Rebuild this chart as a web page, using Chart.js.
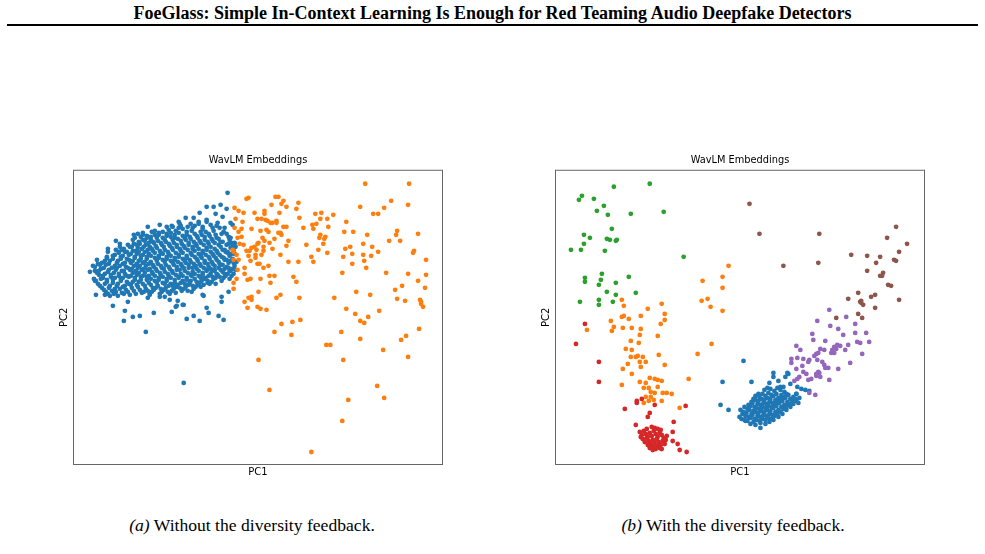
<!DOCTYPE html>
<html>
<head>
<meta charset="utf-8">
<script src="https://cdn.jsdelivr.net/npm/chart.js@4.4.0/dist/chart.umd.min.js"></script>
<style>
  body { margin: 0; width: 985px; height: 554px; background: #fff; position: relative; overflow: hidden; }
  .header { position: absolute; left: 0; top: 3px; width: 985px; text-align: center; line-height: 20px;
            font-family: "Liberation Serif", serif; font-weight: bold; font-size: 18px; color: #000; }
  .rule { position: absolute; left: 7px; top: 24px; width: 971px; height: 2px; background: #000; }
  .cap { position: absolute; top: 515px; width: 400px; text-align: center; line-height: 20px;
         font-family: "Liberation Serif", serif; font-size: 17.6px; color: #000; }
  canvas { position: absolute; }
</style>
</head>
<body>
<div class="header">FoeGlass: Simple In-Context Learning Is Enough for Red Teaming Audio Deepfake Detectors</div>
<div class="rule"></div>
<canvas id="left" width="408" height="336" style="left:46px; top:148px;"></canvas>
<canvas id="right" width="408" height="336" style="left:528px; top:148px;"></canvas>
<div class="cap" style="left:52px;"><i>(a)</i> Without the diversity feedback.</div>
<div class="cap" style="left:533px;"><i>(b)</i> With the diversity feedback.</div>
<script>
// projected embeddings, [PC1, PC2] in plot units (0..369 x 0..293)
const leftBlue = [
  [154,271],[147,259],[140,257],[133,257],[153,255],[126,251],[142,250],[112,246],[120,246],[105,242],
  [86,239],[93,237],[99,237],[74,237],[78,232],[69,231],[60,229],[64,230],[42,223],[46,220],
  [34,215],[34,212],[24,200],[16,192],[21,183],[22,169],[31,169],[36,168],[44,168],[39,158],
  [51,153],[50,143],[59,147],[66,148],[80,151],[72,132],[98,152],[102,157],[110,159],[113,145],
  [120,148],[126,143],[135,151],[133,156],[145,148],[150,144],[148,167],[142,180],[130,168],[134,181],
  [127,177],[151,195],[156,193],[141,194],[154,211],[104,163],[96,164],[91,167],[86,167],[76,169],
  [54,162],[74,166],[155,172],[148,162],[129,169],[138,193],[146,200],[109,159],[103,158],[110,81],
  [157,241],[159,239],[156,224],[158,221],[161,220],[160,201],
  [20,185],[21,193],[19,198],[24,180],[25,189],[23,204],[28,176],[29,186],[27,195],[28,201],
  [32,172],[33,182],[31,190],[32,199],[33,206],[36,178],[37,187],[35,194],[36,203],
  [40,170],[41,175],[39,184],[40,191],[41,198],[39,208],[44,180],[45,188],[43,196],[44,203],[45,211],
  [48,171],[49,177],[47,185],[48,193],[49,200],[47,207],[48,214],[52,174],[53,182],[51,190],[52,197],[53,205],[51,212],
  [56,169],[57,179],[55,187],[56,194],[57,201],[55,209],[56,217],[60,173],[61,184],[59,191],[60,198],[61,206],[59,213],[60,220],
  [64,177],[65,182],[63,189],[64,196],[65,203],[63,210],[64,216],[65,222],
  [68,171],[69,180],[67,187],[68,194],[69,201],[67,208],[68,215],[69,224],
  [72,175],[73,184],[71,191],[72,198],[73,205],[71,212],[72,219],[73,226],
  [76,170],[77,179],[75,188],[76,195],[77,202],[75,210],[76,217],[77,224],
  [80,174],[81,183],[79,190],[80,197],[81,206],[79,213],[80,221],[81,229],
  [84,178],[85,186],[83,193],[84,200],[85,208],[83,216],[84,223],[85,231],
  [88,172],[89,181],[87,189],[88,196],[89,204],[87,211],[88,219],[89,226],
  [92,176],[93,185],[91,192],[92,199],[93,207],[91,214],[92,222],[93,230],
  [96,170],[97,180],[95,188],[96,195],[97,203],[95,210],[96,218],[97,227],[95,234],
  [100,175],[101,184],[99,191],[100,199],[101,206],[99,214],[100,221],[101,229],
  [104,179],[105,187],[103,194],[104,202],[105,209],[103,217],[104,225],[105,236],
  [108,173],[109,183],[107,190],[108,198],[109,205],[107,213],[108,220],[109,228],[107,238],
  [112,177],[113,186],[111,193],[112,201],[113,208],[111,216],[112,224],[113,232],
  [116,181],[117,189],[115,196],[116,204],[117,211],[115,219],[116,227],[117,240],
  [120,175],[121,185],[119,192],[120,200],[121,207],[119,215],[120,222],[121,230],[119,236],
  [124,179],[125,188],[123,195],[124,203],[125,210],[123,218],[124,226],[125,242],
  [128,183],[129,191],[127,198],[128,206],[129,213],[127,221],[128,229],[129,237],
  [132,186],[133,194],[131,201],[132,209],[133,216],[131,224],[132,232],[133,244],
  [136,180],[137,190],[135,197],[136,205],[137,212],[135,220],[136,228],[137,239],
  [140,185],[141,193],[139,200],[140,208],[141,215],[139,223],[140,233],
  [144,189],[145,196],[143,204],[144,211],[145,219],[143,226],[144,241],
  [148,183],[149,192],[147,199],[148,207],[149,214],[147,222],[148,230],[149,247],
  [152,188],[153,197],[151,204],[152,212],[153,219],[151,236],
  [156,185],[157,193],[155,201],[156,208],[157,216],[155,227],
  [160,190],[161,198],[159,205],[160,213],[161,221],
  [22,183],[23,191],[21,197],[26,178],[27,185],[25,193],[26,199],
  [30,174],[31,180],[29,188],[30,196],[31,203],[34,170],[35,176],[33,184],[34,192],[35,200],[33,207],
  [38,173],[39,181],[37,189],[38,196],[39,205],[42,172],[43,178],[41,186],[42,194],[43,201],[41,209],[42,214],
  [46,175],[47,183],[45,190],[46,198],[47,205],[45,212],[46,217],[50,170],[51,178],[49,186],[50,193],[51,201],[49,208],[50,215],
  [54,172],[55,180],[53,188],[54,196],[55,204],[53,212],[54,219],
  [58,176],[59,182],[57,188],[58,195],[59,203],[57,210],[58,217],[59,224],
  [62,170],[63,179],[61,186],[62,193],[63,200],[61,207],[62,213],[63,219],[61,226],
  [66,174],[67,184],[65,191],[66,198],[67,205],[65,212],[66,220],[67,227],
  [70,172],[71,178],[69,188],[70,195],[71,202],[69,209],[70,217],[71,223],[69,229],
  [74,173],[75,181],[73,187],[74,194],[75,200],[73,207],[74,214],[75,221],[73,228],
  [78,172],[79,176],[77,185],[78,192],[79,199],[77,208],[78,215],[79,222],[77,227],
  [82,176],[83,181],[81,188],[82,195],[83,203],[81,211],[82,218],[83,226],[81,233],
  [86,170],[87,175],[85,184],[86,191],[87,198],[85,206],[86,213],[87,221],[85,229],
  [90,174],[91,180],[89,187],[90,195],[91,202],[89,210],[90,217],[91,224],[89,232],
  [94,172],[95,178],[93,183],[94,190],[95,197],[93,205],[94,212],[95,220],[93,228],
  [98,173],[99,178],[97,186],[98,193],[99,201],[97,208],[98,216],[99,224],[97,231],[98,238],
  [102,171],[103,177],[101,181],[102,189],[103,197],[101,204],[102,211],[103,219],[101,226],[102,233],
  [106,176],[107,181],[105,186],[106,194],[107,200],[105,207],[106,215],[107,223],[105,231],[106,240],
  [110,175],[111,180],[109,188],[110,196],[111,203],[109,211],[110,218],[111,226],[109,235],
  [114,173],[115,179],[113,184],[114,191],[115,199],[113,206],[114,214],[115,221],[113,229],[114,237],
  [118,172],[119,178],[117,183],[118,188],[119,196],[117,202],[118,209],[119,217],[117,225],[118,233],
  [122,177],[123,182],[121,190],[122,198],[123,205],[121,213],[122,220],[123,228],[121,238],
  [126,181],[127,186],[125,193],[126,200],[127,208],[125,215],[126,223],[127,232],[125,240],
  [130,179],[131,185],[129,189],[130,196],[131,203],[129,211],[130,219],[131,227],[129,235],
  [134,183],[135,188],[133,193],[134,200],[135,207],[133,214],[134,222],[135,230],[133,242],
  [138,182],[139,187],[137,195],[138,202],[139,210],[137,217],[138,225],[139,236],
  [142,186],[143,190],[141,198],[142,206],[143,213],[141,221],[142,229],[143,238],
  [146,187],[147,194],[145,202],[146,209],[147,217],[145,225],[146,236],
  [150,186],[151,190],[149,199],[150,206],[151,214],[149,222],[150,232],
  [154,190],[155,196],[153,204],[154,212],[155,220],[153,230],
  [158,188],[159,195],[157,203],[158,210],[159,218],[157,226],[162,194],[163,202],[161,210],[162,217]
];
const leftOrange = [
  [292,280],[336,280],[318,263],[335,259],[287,257],[311,256],[300,250],[305,250],[273,242],[271,232],
  [280,232],[294,229],[324,233],[323,229],[345,230],[316,223],[327,223],[290,220],[299,217],[277,217],
  [272,215],[305,212],[341,213],[340,211],[270,207],[279,210],[290,209],[298,208],[291,203],[353,204],
  [279,200],[293,196],[269,191],[313,191],[335,190],[353,189],[345,183],[329,178],[322,174],[352,176],
  [283,172],[297,169],[261,166],[324,165],[332,163],[347,164],[348,162],[348,160],[350,157],[273,155],
  [306,153],[282,150],[295,147],[287,143],[291,141],[346,135],[268,132],[333,128],[328,124],[287,125],
  [253,119],[257,119],[310,114],[335,107],[270,104],[304,78],[311,66],[275,64],[269,43],[238,12],
  [185,104],[196,74],[201,132],[218,129],[208,140],[219,142],[227,144],[226,166],[203,166],[207,169],
  [185,172],[193,154],[187,155],[184,157],[174,156],[171,162],[175,166],[178,164],[178,167],[160,175],
  [160,181],[163,185],[164,194],[174,184],[177,185],[187,185],[197,181],[196,188],[201,188],[195,198],
  [190,196],[223,182],[220,187],[171,190],[171,196],[160,204],[165,204],[160,212],[163,209],[173,213],
  [175,208],[177,203],[182,209],[184,200],[182,206],[186,200],[188,209],[183,214],[178,216],[176,213],
  [181,217],[184,220],[190,217],[190,213],[189,226],[185,221],[191,223],[196,221],[199,215],[201,225],
  [207,209],[213,218],[215,223],[215,202],[225,202],[238,207],[240,202],[245,214],[254,211],[233,219],
  [250,220],[251,225],[246,226],[247,229],[252,227],[255,237],[240,235],[239,239],[243,240],[247,245],
  [254,245],[260,249],[248,251],[242,250],[230,236],[226,246],[223,255],[225,261],[213,257],[208,260],
  [210,263],[205,267],[202,267],[198,259],[206,251],[203,241],[199,241],[197,241],[194,243],[192,244],
  [188,245],[184,245],[191,253],[191,250],[181,251],[175,266],[173,265],[170,251],[165,253],[161,256],
  [169,242],[162,245],[178,235],[187,233],[193,234],[195,232],[205,231],[208,229],[207,231],[210,237],
  [213,237],[203,243],[161,236],[165,232],[168,235],[168,227],[164,226],[170,219],[166,220],[159,214]
];
const rightBlue = [
  [167,82],[165,59],[173,54],[188,103],[196,82],[218,91],[233,90],[230,87],[223,83],[214,81],
  [225,77],[235,80],[242,77],[246,75],[250,74],[254,73],[241,70],[243,61],[184,47],[190,43],
  [195,40],[200,39],[205,36],[218,87],[232,91],
  [205,41],[210,40],[214,42],[218,44],[209,74],[212,76],[215,75],[203,70],[200,68],[225,74],
  [228,77],[222,76],[244,66],[241,63],[238,60],[235,57],[231,54],[227,50],[223,47],
  [186,45],[187,50],[185,54],[189,44],[190,48],[188,52],[189,57],
  [192,43],[193,47],[191,51],[192,55],[193,59],[195,46],[196,50],[194,54],[195,58],[196,62],
  [198,42],[199,45],[197,49],[198,53],[199,57],[197,61],[198,65],
  [201,44],[202,48],[200,52],[201,56],[202,60],[200,64],
  [204,43],[205,47],[203,51],[204,55],[205,59],[203,63],[204,67],
  [207,45],[208,49],[206,53],[207,57],[208,61],[206,65],[207,70],
  [210,44],[211,48],[209,52],[210,56],[211,60],[209,64],[210,68],
  [213,46],[214,50],[212,54],[213,58],[214,62],[212,66],[213,71],
  [216,45],[217,49],[215,53],[216,57],[217,61],[215,65],[216,69],
  [219,48],[220,52],[218,56],[219,60],[220,64],[218,68],[219,73],
  [222,50],[223,54],[221,58],[222,62],[223,66],[221,70],
  [225,52],[226,57],[224,61],[225,65],[226,69],
  [228,55],[229,59],[227,63],[228,67],[229,72],
  [231,58],[232,62],[230,66],[231,70],[234,60],[235,65],[233,69],[237,63],[238,67],[240,65],[241,70]
];
const rightOrange = [
  [31,134],[55,143],[58,137],[56,133],[66,164],[68,158],[68,148],[66,147],[73,145],[67,136],
  [76,136],[85,148],[92,155],[106,160],[109,150],[109,144],[105,140],[85,135],[84,129],[102,128],
  [75,123],[83,121],[70,115],[76,114],[80,107],[82,108],[75,107],[87,107],[84,102],[90,102],
  [103,109],[85,97],[72,100],[67,95],[76,90],[109,99],[66,79],[156,120],[142,110],[133,85],
  [124,56],[84,82],[90,81],[94,86],[99,85],[102,84],[106,83],[88,76],[93,76],[102,77],
  [95,72],[99,71],[107,71],[111,71],[116,70],[95,67],[90,67],[93,63],[88,61],[98,64],
  [106,63],[173,198],[167,187],[167,176],[147,183],[146,163],[152,165],[155,157],[167,153]
];
const rightGreen = [
  [58,277],[94,280],[23,264],[26,268],[38,265],[48,258],[41,253],[52,249],[75,250],[108,252],
  [56,235],[28,229],[34,226],[51,225],[54,224],[60,223],[61,224],[28,220],[15,214],[25,214],
  [49,213],[128,207],[29,186],[29,182],[46,190],[45,184],[43,179],[60,181],[73,187],[51,172],
  [60,169],[80,171],[24,162],[43,164],[43,159],[57,162]
];
const rightRed = [
  [29,140],[20,120],[43,102],[43,82],[69,55],[81,63],[81,61],[86,65],[99,59],[94,51],
  [92,47],[130,58],[80,39],[118,42],[117,32],[117,23],[122,20],[124,14],[131,12],
  [84,32],[86,29],[88,33],[90,30],[92,27],[94,31],[96,28],[98,33],[100,30],[102,27],
  [104,31],[106,29],[108,26],[110,24],[87,25],[89,22],[91,26],[93,23],[95,20],[97,24],
  [99,21],[101,25],[103,22],[105,19],[107,23],[109,20],[92,19],[94,16],[96,17],[98,18],
  [100,15],[102,18],[104,16],[106,15],[97,14],[99,36],[96,37],[102,35],[91,35],[111,28],
  [85,27],[105,34]
];
const rightPurple = [
  [274,154],[291,147],[262,143],[275,138],[283,135],[300,140],[288,129],[257,130],[258,124],[270,123],
  [300,131],[311,131],[302,122],[305,121],[314,122],[293,119],[290,114],[307,110],[295,101],[279,117],
  [282,119],[285,118],[277,114],[279,111],[281,115],[265,115],[263,111],[261,110],[259,108],[241,118],
  [245,114],[236,105],[236,101],[242,106],[248,105],[253,102],[247,98],[254,104],[262,104],[267,102],
  [269,99],[270,96],[273,96],[283,95],[241,95],[263,92],[264,91],[261,90],[248,92],[251,90],
  [244,87],[242,85],[239,83],[256,85],[253,84],[274,84],[254,71],[260,69],[269,114],[276,111],
  [261,88],[265,87]
];
const rightBrown = [
  [194,260],[204,230],[264,230],[228,198],[263,201],[296,209],[312,208],[325,207],[321,201],[341,237],
  [332,226],[352,220],[344,212],[339,204],[341,203],[312,193],[328,191],[327,188],[325,188],[333,179],
  [336,178],[303,171],[293,165],[316,167],[320,169],[305,162],[306,161],[308,159],[306,163],[320,156],
  [344,164],[281,146],[303,150],[307,146]
];

const tab = { blue: '#1f77b4', orange: '#ff7f0e', green: '#2ca02c', red: '#d62728', purple: '#9467bd', brown: '#8c564b' };

function pts(list) { return list.map(p => ({ x: p[0], y: p[1] })); }

function ds(list, color, order) {
  return { data: pts(list), backgroundColor: color, pointBackgroundColor: color,
           pointRadius: 2.4, pointBorderWidth: 0, pointHoverRadius: 2.4, order: order };
}

// box round the plot area, like matplotlib spines
const frame = {
  id: 'frame',
  afterDraw(chart) {
    const { ctx, chartArea: a } = chart;
    ctx.save();
    ctx.strokeStyle = '#666';
    ctx.lineWidth = 1;
    ctx.strokeRect(a.left - 0.5, a.top - 0.5, a.right - a.left + 1, a.bottom - a.top + 1);
    ctx.restore();
  }
};

function makeChart(id, datasets) {
  const font = { family: 'DejaVu Sans', size: 10, weight: 'normal' };
  return new Chart(document.getElementById(id), {
    type: 'scatter',
    data: { datasets: datasets },
    options: {
      responsive: false,
      animation: false,
      layout: { padding: { left: 10, right: 12, top: 7, bottom: 2 } },
      plugins: {
        legend: { display: false },
        tooltip: { enabled: false },
        // fullSize false keeps the title centred over the plot area
        title: { display: true, fullSize: false, text: 'WavLM Embeddings', color: '#000',
                 font: { family: 'DejaVu Sans', size: 9.8, weight: 'normal' }, padding: { top: 0, bottom: 4 } }
      },
      scales: {
        x: { type: 'linear', min: 0, max: 369, grid: { display: false, drawTicks: false }, ticks: { display: false }, border: { display: false },
             title: { display: true, text: 'PC1', color: '#000', font: font, padding: { top: 2, bottom: 4 } } },
        y: { type: 'linear', min: 0, max: 293, grid: { display: false, drawTicks: false }, ticks: { display: false }, border: { display: false },
             title: { display: true, text: 'PC2', color: '#000', font: font, padding: { top: 2, bottom: 4 } } }
      }
    },
    plugins: [frame]
  });
}

makeChart('left', [ds(leftBlue, tab.blue, 2), ds(leftOrange, tab.orange, 1)]);
makeChart('right', [
  ds(rightBlue, tab.blue, 6), ds(rightOrange, tab.orange, 5), ds(rightGreen, tab.green, 4),
  ds(rightRed, tab.red, 3), ds(rightPurple, tab.purple, 2), ds(rightBrown, tab.brown, 1)
]);
</script>
</body>
</html>
